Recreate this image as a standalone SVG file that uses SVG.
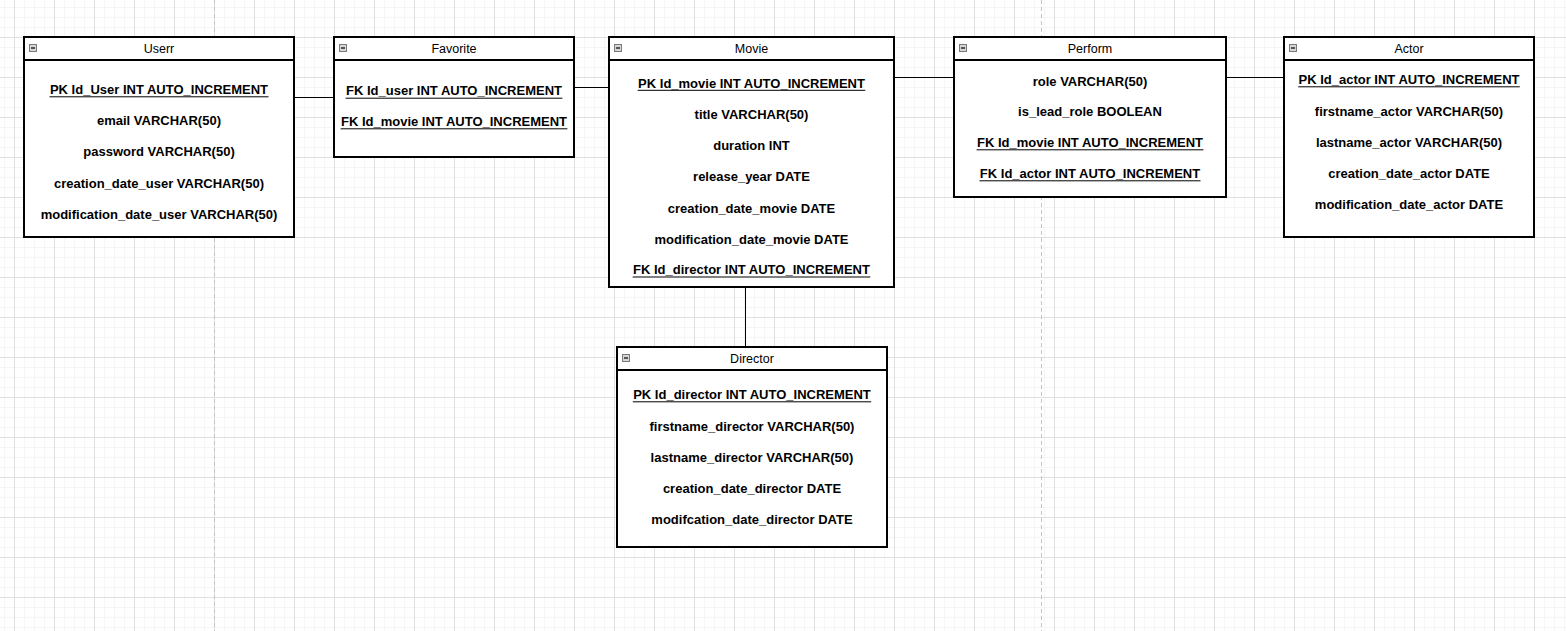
<svg xmlns="http://www.w3.org/2000/svg" width="1566" height="631" viewBox="0 0 1566 631">
  <defs>
    <pattern id="minorGrid" x="4" y="7" width="10" height="10" patternUnits="userSpaceOnUse">
      <path d="M0.5 0 V10 M0 0.5 H10" stroke="#f5f5f5" stroke-width="1" fill="none"/>
    </pattern>
    <pattern id="majorGrid" x="14" y="37" width="40" height="40" patternUnits="userSpaceOnUse">
      <path d="M0.5 0 V40 M0 0.5 H40" stroke="#e0e0e0" stroke-width="1" fill="none"/>
    </pattern>
    <style>
      .tbl { fill: #ffffff; stroke: #000000; stroke-width: 2; }
      .hdr { stroke: #000000; stroke-width: 2; }
      .title { font-family: "Liberation Sans", Arial, sans-serif; font-size: 12.5px; fill: #000000; text-anchor: middle; }
      .row { font-family: "Liberation Sans", Arial, sans-serif; font-size: 13px; font-weight: bold; fill: #000000; text-anchor: middle; }
      .ul { stroke: #000000; stroke-width: 1; }
      .icon { fill: #d6d6d6; stroke: #7a7a7a; stroke-width: 1; }
      .minus { stroke: #000000; stroke-width: 1.2; }
      .conn { stroke: #000000; stroke-width: 1; fill: none; }
      .page { stroke: #c4c4c4; stroke-width: 1; stroke-dasharray: 4 3; fill: none; }
    </style>
  </defs>

  <g id="background">
    <rect x="0" y="0" width="1566" height="631" fill="#ffffff"/>
    <rect x="0" y="0" width="1566" height="631" fill="url(#minorGrid)"/>
    <rect x="0" y="0" width="1566" height="631" fill="url(#majorGrid)"/>
    <line class="page" x1="214.5" y1="0" x2="214.5" y2="631"/>
    <line class="page" x1="1041.5" y1="0" x2="1041.5" y2="631"/>
  </g>

  <g id="connectors">
    <line class="conn" x1="294" y1="97.5" x2="334" y2="97.5"/>
    <line class="conn" x1="574" y1="87.5" x2="609" y2="87.5"/>
    <line class="conn" x1="894" y1="77.5" x2="954" y2="77.5"/>
    <line class="conn" x1="1226" y1="77.5" x2="1287" y2="77.5"/>
    <line class="conn" x1="745.5" y1="287" x2="745.5" y2="347"/>
  </g>

  <g id="table-userr">
    <rect class="tbl" x="24" y="37" width="270" height="200"/>
    <line class="hdr" x1="24" y1="60" x2="294" y2="60"/>
    <rect class="icon" x="29.5" y="44.5" width="7" height="7"/>
    <line class="minus" x1="31" y1="48" x2="35" y2="48"/>
    <text class="title" x="159" y="53">Userr</text>
    <text class="row" x="159" y="94">PK Id_User INT AUTO_INCREMENT</text>
    <line class="ul" x1="49.5" y1="96.8" x2="268.5" y2="96.8"/>
    <text class="row" x="159" y="125.2">email VARCHAR(50)</text>
    <text class="row" x="159" y="156.4">password VARCHAR(50)</text>
    <text class="row" x="159" y="187.6">creation_date_user VARCHAR(50)</text>
    <text class="row" x="159" y="218.8">modification_date_user VARCHAR(50)</text>
  </g>

  <g id="table-favorite">
    <rect class="tbl" x="334" y="37" width="240" height="120"/>
    <line class="hdr" x1="334" y1="60" x2="574" y2="60"/>
    <rect class="icon" x="339.5" y="44.5" width="7" height="7"/>
    <line class="minus" x1="341" y1="48" x2="345" y2="48"/>
    <text class="title" x="454" y="53">Favorite</text>
    <text class="row" x="454" y="95.4">FK Id_user INT AUTO_INCREMENT</text>
    <line class="ul" x1="345.6" y1="98.2" x2="562.4" y2="98.2"/>
    <text class="row" x="454" y="126">FK Id_movie INT AUTO_INCREMENT</text>
    <line class="ul" x1="340.6" y1="128.8" x2="567.4" y2="128.8"/>
  </g>

  <g id="table-movie">
    <rect class="tbl" x="609" y="37" width="285" height="250"/>
    <line class="hdr" x1="609" y1="60" x2="894" y2="60"/>
    <rect class="icon" x="614.5" y="44.5" width="7" height="7"/>
    <line class="minus" x1="616" y1="48" x2="620" y2="48"/>
    <text class="title" x="751.5" y="53">Movie</text>
    <text class="row" x="751.5" y="87.5">PK Id_movie INT AUTO_INCREMENT</text>
    <line class="ul" x1="637.7" y1="90.3" x2="865.3" y2="90.3"/>
    <text class="row" x="751.5" y="118.8">title VARCHAR(50)</text>
    <text class="row" x="751.5" y="150.4">duration INT</text>
    <text class="row" x="751.5" y="181.4">release_year DATE</text>
    <text class="row" x="751.5" y="212.9">creation_date_movie DATE</text>
    <text class="row" x="751.5" y="243.9">modification_date_movie DATE</text>
    <text class="row" x="751.5" y="274.2">FK Id_director INT AUTO_INCREMENT</text>
    <line class="ul" x1="632.7" y1="277" x2="870.3" y2="277"/>
  </g>

  <g id="table-perform">
    <rect class="tbl" x="954" y="37" width="272" height="160"/>
    <line class="hdr" x1="954" y1="60" x2="1226" y2="60"/>
    <rect class="icon" x="959.5" y="44.5" width="7" height="7"/>
    <line class="minus" x1="961" y1="48" x2="965" y2="48"/>
    <text class="title" x="1090" y="53">Perform</text>
    <text class="row" x="1090" y="85.6">role VARCHAR(50)</text>
    <text class="row" x="1090" y="116">is_lead_role BOOLEAN</text>
    <text class="row" x="1090" y="147">FK Id_movie INT AUTO_INCREMENT</text>
    <line class="ul" x1="976.6" y1="149.8" x2="1203.4" y2="149.8"/>
    <text class="row" x="1090" y="178">FK Id_actor INT AUTO_INCREMENT</text>
    <line class="ul" x1="979.5" y1="180.8" x2="1200.5" y2="180.8"/>
  </g>

  <g id="table-actor">
    <rect class="tbl" x="1284" y="37" width="250" height="200"/>
    <line class="hdr" x1="1284" y1="60" x2="1534" y2="60"/>
    <rect class="icon" x="1289.5" y="44.5" width="7" height="7"/>
    <line class="minus" x1="1291" y1="48" x2="1295" y2="48"/>
    <text class="title" x="1409" y="53">Actor</text>
    <text class="row" x="1409" y="84">PK Id_actor INT AUTO_INCREMENT</text>
    <line class="ul" x1="1298.2" y1="86.8" x2="1519.8" y2="86.8"/>
    <text class="row" x="1409" y="115.7">firstname_actor VARCHAR(50)</text>
    <text class="row" x="1409" y="147.2">lastname_actor VARCHAR(50)</text>
    <text class="row" x="1409" y="178">creation_date_actor DATE</text>
    <text class="row" x="1409" y="208.7">modification_date_actor DATE</text>
  </g>

  <g id="table-director">
    <rect class="tbl" x="617" y="347" width="270" height="200"/>
    <line class="hdr" x1="617" y1="370" x2="887" y2="370"/>
    <rect class="icon" x="622.5" y="354.5" width="7" height="7"/>
    <line class="minus" x1="624" y1="358" x2="628" y2="358"/>
    <text class="title" x="752" y="362.7">Director</text>
    <text class="row" x="752" y="399">PK Id_director INT AUTO_INCREMENT</text>
    <line class="ul" x1="632.8" y1="401.8" x2="871.2" y2="401.8"/>
    <text class="row" x="752" y="430.7">firstname_director VARCHAR(50)</text>
    <text class="row" x="752" y="462">lastname_director VARCHAR(50)</text>
    <text class="row" x="752" y="493">creation_date_director DATE</text>
    <text class="row" x="752" y="523.7">modifcation_date_director DATE</text>
  </g>
</svg>
